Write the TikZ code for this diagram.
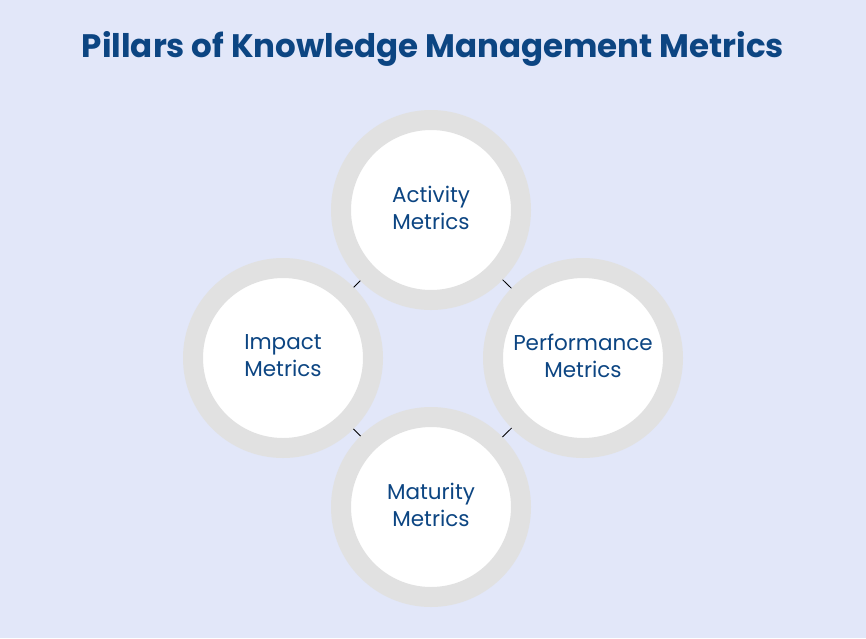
\documentclass[tikz,border=0pt]{standalone}
\usepackage{fontspec}
\setmainfont{Poppins}
\usetikzlibrary{positioning}
\definecolor{fondo}{HTML}{E2E7F9}
\definecolor{anillo}{HTML}{E1E1E1}
\definecolor{azul}{HTML}{0C4582}
\tikzstyle{pilar} = [circle, fill=white, draw=anillo, line width=20pt, minimum size=180pt, outer sep=10pt, inner sep=0pt, align=center, text depth=5pt, text=azul, font=\fontsize{21.5}{27}\selectfont]
\tikzstyle{titulo} = [text=azul, font=\fontsize{32.5}{36}\selectfont\bfseries]
\tikzstyle{enlace} = [draw=black, line width=0.8pt]

\begin{document}
\begin{tikzpicture}[x=1pt, y=-1pt]
	\fill[fondo] (0,0) rectangle (866,638);
	\useasboundingbox (0,0) rectangle (866,638);
	\node[titulo] (tit) at (433,49) {Pillars of Knowledge Management Metrics};
	\node[pilar] (act) at (431,210) {Activity\\Metrics};
	\node[pilar] (imp) at (283,358) {Impact\\Metrics};
	\node[pilar] (per) at (583,358) {Performance\\Metrics};
	\node[pilar] (mat) at (431,507) {Maturity\\Metrics};
	\draw[enlace] (act) -- (imp);
	\draw[enlace] (act) -- (per);
	\draw[enlace] (imp) -- (mat);
	\draw[enlace] (per) -- (mat);
\end{tikzpicture}
\end{document}
